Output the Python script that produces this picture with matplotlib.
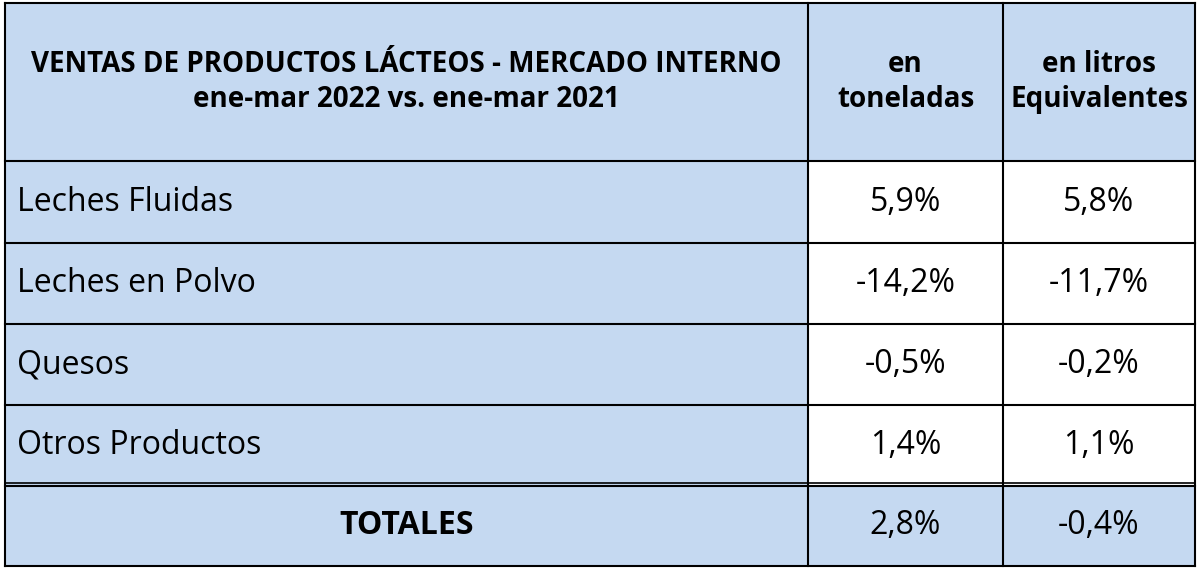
import matplotlib
matplotlib.use("Agg")
import matplotlib.pyplot as plt
from matplotlib.patches import Rectangle

title_lines = ["VENTAS DE PRODUCTOS LÁCTEOS - MERCADO INTERNO", "ene-mar 2022 vs. ene-mar 2021"]
col_headers = ["en\ntoneladas", "en litros\nEquivalentes"]
categories = ["Leches Fluidas", "Leches en Polvo", "Quesos", "Otros Productos"]
toneladas = ["5,9%", "-14,2%", "-0,5%", "1,4%"]
litros = ["5,8%", "-11,7%", "-0,2%", "1,1%"]
total_label = "TOTALES"
total_values = ["2,8%", "-0,4%"]

W, H = 1200, 569
fig = plt.figure(figsize=(W/100, H/100), dpi=100)
ax = fig.add_axes([0, 0, 1, 1])
ax.set_xlim(0, W); ax.set_ylim(H, 0); ax.axis("off")
plt.rcParams['font.family'] = ['Open Sans', 'DejaVu Sans']

blue = "#C5D9F1"
xs = [5, 808, 1003, 1195]
ys = [3, 161, 243, 324, 405, 486, 566]
HF = 20
BF = 23

def cell(x0, x1, y0, y1, color):
    ax.add_patch(Rectangle((x0, y0), x1-x0, y1-y0, facecolor=color, edgecolor="none"))

for c in range(3):
    cell(xs[c], xs[c+1], ys[0], ys[1], blue)
    cell(xs[c], xs[c+1], ys[5], ys[6], blue)
for r in range(4):
    cell(xs[0], xs[1], ys[r+1], ys[r+2], blue)
    cell(xs[1], xs[3], ys[r+1], ys[r+2], "white")

for x in xs:
    ax.plot([x, x], [ys[0], ys[-1]], color="black", lw=1.5)
for y in ys:
    ax.plot([xs[0], xs[-1]], [y, y], color="black", lw=1.5)
ax.plot([xs[0], xs[-1]], [ys[5]-3, ys[5]-3], color="black", lw=1.2)

hy = (ys[0]+ys[1])/2
ax.text((xs[0]+xs[1])/2, hy, "\n".join(title_lines), ha="center", va="center",
        fontsize=HF, fontweight="bold", linespacing=1.3)
for c, h in enumerate(col_headers):
    ax.text((xs[c+1]+xs[c+2])/2, hy, h, ha="center", va="center",
            fontsize=HF, fontweight="bold", linespacing=1.3)

for r in range(4):
    cy = (ys[r+1]+ys[r+2])/2
    ax.text(17, cy, categories[r], ha="left", va="center", fontsize=BF)
    ax.text((xs[1]+xs[2])/2, cy, toneladas[r], ha="center", va="center", fontsize=BF)
    ax.text((xs[2]+xs[3])/2, cy, litros[r], ha="center", va="center", fontsize=BF)

ty = (ys[5]+ys[6])/2
ax.text((xs[0]+xs[1])/2, ty, total_label, ha="center", va="center", fontsize=BF, fontweight="bold")
ax.text((xs[1]+xs[2])/2, ty, total_values[0], ha="center", va="center", fontsize=BF)
ax.text((xs[2]+xs[3])/2, ty, total_values[1], ha="center", va="center", fontsize=BF)

fig.savefig("out.png", dpi=100)
